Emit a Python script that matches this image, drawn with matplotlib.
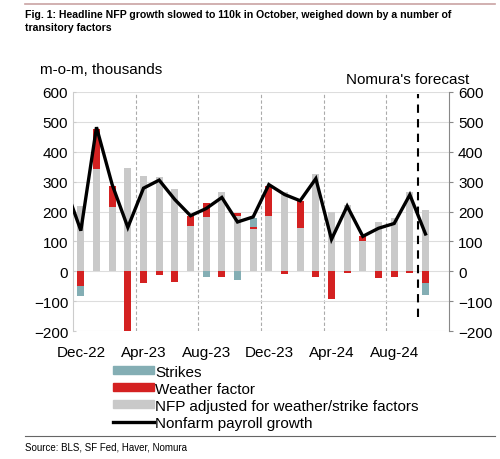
import matplotlib
matplotlib.use('Agg')
import matplotlib.pyplot as plt
from matplotlib.patches import Patch
from matplotlib.lines import Line2D
import numpy as np

plt.rcParams['font.family'] = ['Liberation Sans', 'DejaVu Sans']

# monthly data, Dec-22 .. Oct-24 (thousands, m-o-m)
months = ['Dec-22', 'Jan-23', 'Feb-23', 'Mar-23', 'Apr-23', 'May-23', 'Jun-23',
          'Jul-23', 'Aug-23', 'Sep-23', 'Oct-23', 'Nov-23', 'Dec-23', 'Jan-24',
          'Feb-24', 'Mar-24', 'Apr-24', 'May-24', 'Jun-24', 'Jul-24', 'Aug-24',
          'Sep-24', 'Oct-24']
nfp_adjusted = [220, 342, 214, 344, 320, 315, 275, 152, 183, 264, 185, 141,
                186, 266, 144, 327, 200, 222, 103, 166, 177, 264, 205]
weather = [-48, 135, 73, -200, -40, -12, -37, 34, 45, -18, 10, 6,
           100, -10, 92, -18, -92, -5, 14, -22, -18, -7, -38]
strikes = [-35, 0, 0, 0, 0, 0, 0, 0, -18, 0, -30, 33,
           0, 0, 0, 0, 0, 0, 0, 0, 0, 0, -42]
# headline NFP, includes Nov-22 (clipped at the left edge)
nfp_months = ['Nov-22'] + months
nfp_growth = [284, 136, 482, 290, 147, 278, 305, 240, 186, 210, 247, 165, 182,
              290, 257, 236, 310, 107, 218, 117, 144, 160, 256, 125]
tick_labels = ['Dec-22', 'Apr-23', 'Aug-23', 'Dec-23', 'Apr-24', 'Aug-24']

grey = '#c9c9c9'
red = '#d42121'
teal = '#84aeb4'

fig = plt.figure(figsize=(5, 4.6), dpi=100)
ax = fig.add_axes([0.146, 0.278, 0.752, 0.52])

x = np.arange(len(months))
adj = np.array(nfp_adjusted, dtype=float)
w = np.array(weather, dtype=float)
s = np.array(strikes, dtype=float)

# stack positives upward and negatives downward
pos_base = np.zeros(len(x))
neg_base = np.zeros(len(x))
for vals, col in [(adj, grey), (w, red), (s, teal)]:
    pos = np.where(vals > 0, vals, 0)
    neg = np.where(vals < 0, vals, 0)
    ax.bar(x, pos, 0.45, bottom=pos_base, color=col, zorder=2)
    ax.bar(x, neg, 0.45, bottom=neg_base, color=col, zorder=2)
    pos_base += pos
    neg_base += neg

xl = np.arange(-1, len(months))
ax.plot(xl, nfp_growth, color='black', lw=2.4, zorder=3, solid_joinstyle='miter')

ax.set_xlim(-0.5, len(months) + 0.5)
ax.set_ylim(-200, 600)
ax.set_yticks(np.arange(-200, 601, 100))
ax.grid(axis='y', color='#dddddd', lw=0.8, zorder=0)

# dashed vertical separators at labelled months
for lab in tick_labels[1:]:
    ax.axvline(months.index(lab) - 0.5, color='#aaaaaa', ls=(0, (3, 2)), lw=0.8, zorder=1)

# forecast divider
ax.axvline(months.index('Oct-24') - 0.5, ymin=0.06, ymax=0.99, color='black',
           ls=(0, (4, 3)), lw=1.5, zorder=4)

ax.set_xticks([months.index(l) for l in tick_labels])
ax.set_xticklabels(tick_labels)
ax.tick_params(axis='x', length=0, labelsize=11, pad=10)
ax.tick_params(axis='y', direction='in', length=2, color='#cccccc', labelsize=11)

ax.spines['top'].set_visible(False)
ax.spines['left'].set_color('#cccccc')
ax.spines['bottom'].set_visible(False)
ax.spines['right'].set_visible(False)

ax2 = ax.twinx()
ax2.set_ylim(-200, 600)
ax2.set_yticks(np.arange(-200, 601, 100))
ax2.tick_params(axis='y', direction='out', length=3, color='#888888', labelsize=11)
for side in ['top', 'left', 'bottom']:
    ax2.spines[side].set_visible(False)
ax2.spines['right'].set_color('#888888')

fig.text(0.08, 0.84, 'm-o-m, thousands', fontsize=11)
fig.text(0.938, 0.818, "Nomura's forecast", fontsize=11, ha='right')

# title and rules
fig.add_artist(Line2D([0.05, 0.99], [0.99, 0.99], color='#c9a3a3', lw=1.2))
fig.text(0.05, 0.978, 'Fig. 1: Headline NFP growth slowed to 110k in October, weighed down by a number of\ntransitory factors',
         fontsize=7.6, fontweight='bold', va='top', linespacing=1.35)
fig.add_artist(Line2D([0.05, 0.99], [0.05, 0.05], color='#666666', lw=0.8))
fig.text(0.05, 0.027, 'Source: BLS, SF Fed, Haver, Nomura', fontsize=7, va='center')

handles = [Patch(color=teal), Patch(color=red), Patch(color=grey),
           Line2D([], [], color='black', lw=2.4)]
labels = ['Strikes', 'Weather factor', 'NFP adjusted for weather/strike factors',
          'Nonfarm payroll growth']
fig.legend(handles, labels, loc='upper left', bbox_to_anchor=(0.225, 0.205),
           frameon=False, fontsize=11, handlelength=2.7, handleheight=0.4,
           handletextpad=0.1, labelspacing=0.2, borderpad=0, borderaxespad=0)

fig.savefig('out.png', dpi=100)
